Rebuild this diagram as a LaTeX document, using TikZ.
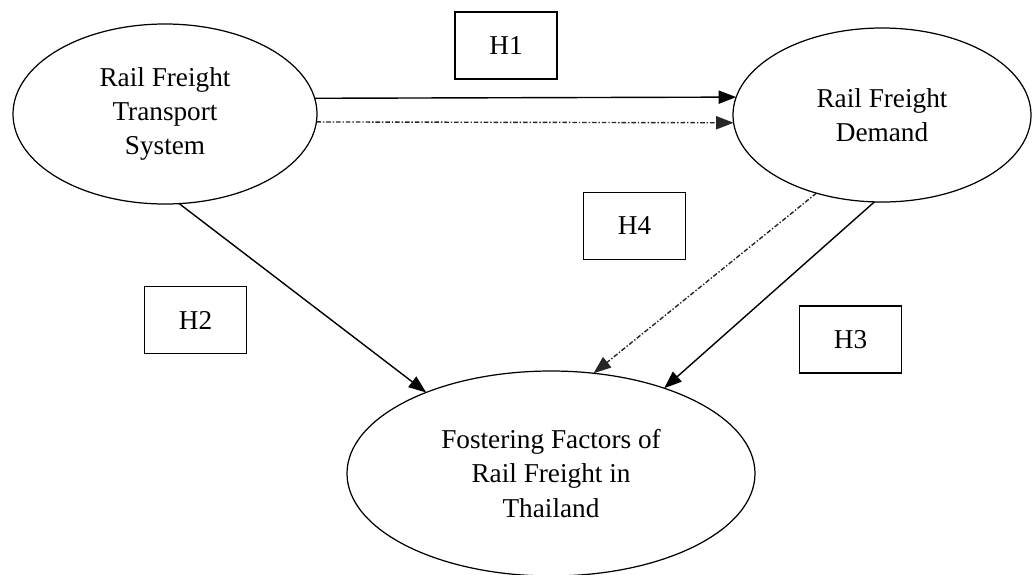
\documentclass[tikz,border=0pt]{standalone}
\usepackage{fontspec}
\setmainfont{Liberation Serif}
\usetikzlibrary{
    shapes.geometric,
    arrows.meta
}
\tikzset{%
    construct/.style={%
        ellipse,
        draw,
        line width=0.7pt,
        inner sep = 0pt,
        outer sep = 0pt,
        align=center,
        font=\fontsize{15.5}{19.6}\selectfont
    },
    hypothesis/.style={%
        rectangle,
        draw,
        line width=1pt,
        inner sep = 0pt,
        outer sep = 0pt,
        minimum width=2.04cm,
        minimum height=1.34cm,
        font=\fontsize{15.5}{19.6}\selectfont
    },
    arrow/.style={%
        >={Triangle[length=10pt,width=7.5pt]},
        line width=0.8pt,
    },
    indirect/.style={%
        arrow,
        draw=black!85,
        line width=0.8pt,
        dash pattern=on 2.6pt off 1.1pt on 0.8pt off 1.1pt,
    },
}
\begin{document}
\begin{tikzpicture}
    \useasboundingbox (0,0) rectangle (20.66,-11.48);

    \node[construct, minimum width=6.08cm, minimum height=3.6cm] (RFTS) at (3.3,-2.28) {Rail Freight\\Transport\\System};
    \node[construct, minimum width=5.96cm, minimum height=3.48cm] (RFD) at (17.64,-2.3) {Rail Freight\\Demand};
    \node[construct, minimum width=8.16cm, minimum height=4.1cm] (FF) at (11.02,-9.47) {Fostering Factors of\\Rail Freight in\\Thailand};

    \node[hypothesis] (H1) at (10.12,-0.91) {H1};
    \node[hypothesis] (H4) at (12.69,-4.52) {H4};
    \node[hypothesis] (H2) at (3.91,-6.4) {H2};
    \node[hypothesis] (H3) at (17.01,-6.79) {H3};

    \draw (RFTS.6.5) edge[arrow, ->] (RFD.173);
    \draw (RFTS.-3.8) edge[indirect, ->] (RFD.183);
    \draw (RFTS.-81.4) edge[arrow, ->] (FF.147.9);
    \draw (RFD.230.2) edge[indirect, ->] (FF.67.2);
    \draw (RFD.265.3) edge[arrow, ->] (FF.37.6);
\end{tikzpicture}
\end{document}
